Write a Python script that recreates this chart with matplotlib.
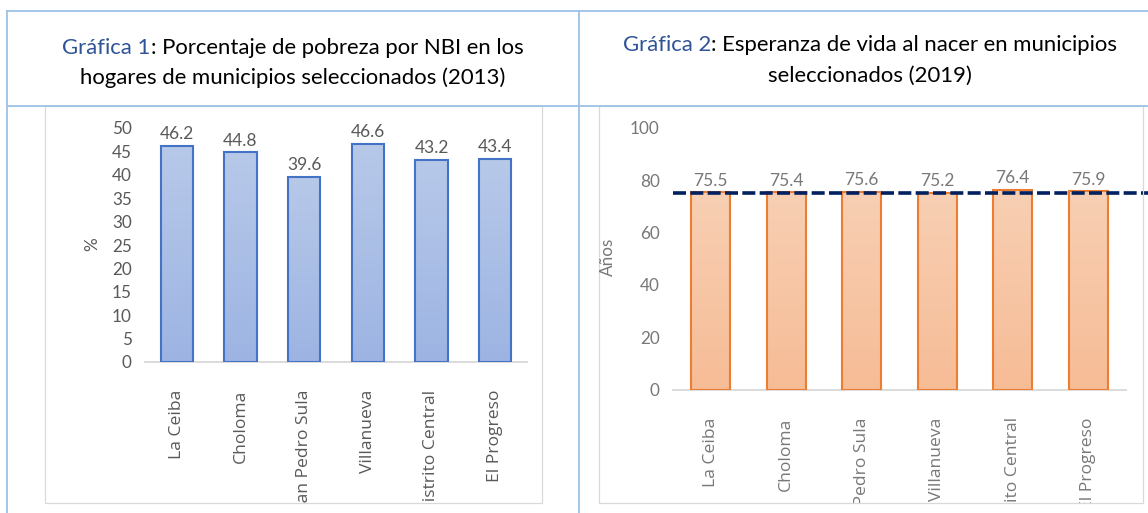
import numpy as np
import matplotlib
matplotlib.use('Agg')
import matplotlib.pyplot as plt
from matplotlib.lines import Line2D
from matplotlib.patches import Rectangle
from matplotlib.colors import LinearSegmentedColormap
from matplotlib.transforms import Bbox, TransformedBbox

plt.rcParams['font.family'] = ['Lato', 'DejaVu Sans']

W, H = 1148, 513

# data
municipios = ['La Ceiba', 'Choloma', 'San Pedro Sula', 'Villanueva',
              'Distrito Central', 'El Progreso']
pobreza_nbi = [46.2, 44.8, 39.6, 46.6, 43.2, 43.4]
esperanza_vida = [75.5, 75.4, 75.6, 75.2, 76.4, 75.9]
esperanza_ref = 75.1
ticks_pobreza = np.arange(0, 51, 5)
ticks_vida = np.arange(0, 101, 20)


def fx(x):
    return x / W


def fy(y):
    return 1 - y / H


def px_box(x0, y0, x1, y1):
    # pixel box with top-left origin -> [left, bottom, width, height] in figure fraction
    return [x0 / W, 1 - y1 / H, (x1 - x0) / W, (y1 - y0) / H]


fig = plt.figure(figsize=(W / 100, H / 100), dpi=100)

# table lines
border = '#9DC3E6'
for x0, y0, x1, y1 in [(7, 11, W, 11), (7, 106, W, 106), (7, 11, 7, H), (579, 11, 579, H)]:
    fig.add_artist(Line2D([fx(x0), fx(x1)], [fy(y0), fy(y1)], color=border, lw=1.3))

# titles (two colours on the first line)
renderer = fig.canvas.get_renderer()
title_blue = '#2F5496'
title_fs = 15.9


def title(cx, base1, base2, blue, rest, line2):
    tb = fig.text(0, fy(base1), blue, color=title_blue, fontsize=title_fs, va='baseline')
    tr = fig.text(0, fy(base1), rest, color='black', fontsize=title_fs, va='baseline')
    wb = tb.get_window_extent(renderer).width
    wr = tr.get_window_extent(renderer).width
    left = cx - (wb + wr) / 2
    tb.set_x(fx(left))
    tr.set_x(fx(left + wb))
    fig.text(fx(cx), fy(base2), line2, color='black', fontsize=title_fs,
             ha='center', va='baseline')


title(293, 53.5, 83.5, 'Gráfica 1', ': Porcentaje de pobreza por NBI en los',
      'hogares de municipios seleccionados (2013)')
title(870, 51, 81.5, 'Gráfica 2', ': Esperanza de vida al nacer en municipios',
      'seleccionados (2019)')


def bar_chart(ax_px, frame_px, values, yticks, top_c, bot_c, edge_c, txt_c, xpad):
    fig.add_artist(Rectangle((fx(frame_px[0]), fy(frame_px[3])),
                             (frame_px[2] - frame_px[0]) / W, (frame_px[3] - frame_px[1]) / H,
                             facecolor='none', edgecolor='#D9D9D9', lw=0.9))
    ax = fig.add_axes(px_box(*ax_px))
    x = np.arange(len(municipios))
    bars = ax.bar(x, values, width=0.51, facecolor='none', edgecolor=edge_c,
                  linewidth=1.5, zorder=3)
    cmap = LinearSegmentedColormap.from_list('grad', [bot_c, top_c])
    grad = np.linspace(0, 1, 100).reshape(-1, 1)
    for b in bars:
        x0, h = b.get_x(), b.get_height()
        im = ax.imshow(grad, extent=(x0, x0 + b.get_width(), 0, h), origin='lower',
                       aspect='auto', cmap=cmap, zorder=2)
        im.set_clip_path(b)
        ax.annotate(f'{h:.1f}', (x0 + b.get_width() / 2, h), xytext=(0, 2.5),
                    textcoords='offset points', ha='center', va='bottom',
                    color=txt_c, fontsize=12.5)
    ax.set_xlim(-0.5, len(x) - 0.5)
    ax.set_ylim(yticks[0], yticks[-1])
    ax.set_yticks(yticks)
    ax.set_xticks(x, municipios, rotation=90)
    for s in ['top', 'left', 'right']:
        ax.spines[s].set_visible(False)
    ax.spines['bottom'].set_color('#D9D9D9')
    ax.spines['bottom'].set_linewidth(1.3)
    ax.tick_params(axis='y', length=0, pad=9.5, labelsize=12.3, labelcolor=txt_c)
    ax.tick_params(axis='x', length=0, pad=xpad, labelcolor=txt_c)
    clip = TransformedBbox(Bbox.from_bounds(*px_box(*frame_px)), fig.transFigure)
    for lbl in ax.get_xticklabels():
        lbl.set_fontfamily(['Open Sans', 'DejaVu Sans'])
        lbl.set_fontsize(12.6)
        lbl.set_clip_on(True)
        lbl.set_clip_box(clip)
    ax.patch.set_visible(False)
    return ax


ax1 = bar_chart((145, 128, 527, 362), (45, 106, 542, 503), pobreza_nbi, ticks_pobreza,
                '#B7C9E9', '#9DB4E3', '#4472C4', '#595959', 20)
fig.text(fx(92), fy(244), '%', rotation=90, ha='center', va='center',
         color='#595959', fontsize=12.3)

ax2 = bar_chart((673, 128, 1126, 389.5), (599, 106, 1143, 503), esperanza_vida, ticks_vida,
                '#F8CFB3', '#F6BC96', '#ED7D31', '#787878', 20)
fig.text(fx(608), fy(257), 'Años', rotation=90, ha='center', va='center',
         color='#787878', fontsize=12.3)
ax2.plot([-0.5, 6.5], [esperanza_ref, esperanza_ref], color='#002060', lw=2.6,
         ls=(0, (3.6, 1.2)), clip_on=False, zorder=5)

fig.savefig('out.png', dpi=100)
